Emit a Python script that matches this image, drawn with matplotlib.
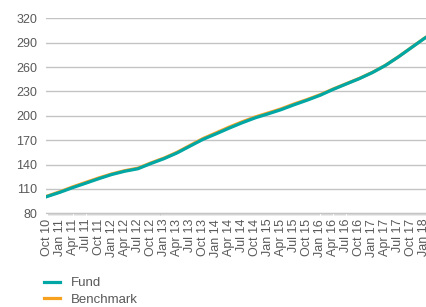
import matplotlib
matplotlib.use("Agg")
import matplotlib.pyplot as plt
import matplotlib.dates as mdates
import pandas as pd

# quarterly readings (index = 100 at launch)
dates = pd.to_datetime([
    "2010-10-01", "2011-01-01", "2011-04-01", "2011-07-01", "2011-10-01",
    "2012-01-01", "2012-04-01", "2012-07-01", "2012-10-01", "2013-01-01",
    "2013-04-01", "2013-07-01", "2013-10-01", "2014-01-01", "2014-04-01",
    "2014-07-01", "2014-10-01", "2015-01-01", "2015-04-01", "2015-07-01",
    "2015-10-01", "2016-01-01", "2016-04-01", "2016-07-01", "2016-10-01",
    "2017-01-01", "2017-04-01", "2017-07-01", "2017-10-01", "2018-01-01",
    "2018-01-25",
])
benchmark = [101, 106.5, 112.5, 118, 123.5, 128.5, 132.5, 135.5, 142, 148,
             155, 163.5, 172, 179, 186, 192.5, 198.5, 203.5, 208.5, 214.5,
             220, 226, 233, 239.5, 246, 253.5, 262, 272.5, 284, 295.5, 298]
fund = [100.5, 105.8, 111.6, 117, 122.6, 127.8, 131.8, 134.8, 141.3, 147.3,
        154.2, 162.6, 171, 177.8, 184.7, 191.3, 197.4, 202.4, 207.5, 213.5,
        219.2, 225.3, 232.5, 239.1, 245.7, 253.2, 261.8, 272.3, 283.8, 295.3, 298]

yticks = [80, 110, 140, 170, 200, 230, 260, 290, 320]

teal = "#00a7a4"
orange = "#f6a11f"
grey_txt = "#595959"

plt.rcParams["font.family"] = ["Liberation Sans", "DejaVu Sans"]

fig = plt.figure(figsize=(4.26, 3.07), dpi=100)
ax = fig.add_axes([46 / 426, 1 - 213.3 / 307, 1 - 46 / 426, 195 / 307])

ax.plot(dates, benchmark, color=orange, lw=2.3, label="Benchmark")
ax.plot(dates, fund, color=teal, lw=2.3, label="Fund")

ax.set_ylim(80, 320)
ax.set_yticks(yticks)
ax.set_xlim(pd.Timestamp("2010-09-26"), pd.Timestamp("2018-01-12"))
ax.grid(axis="y", color="#c4c4c4", lw=1)
ax.set_axisbelow(True)

ax.xaxis.set_major_locator(mdates.MonthLocator(bymonth=[1, 4, 7, 10]))
ax.xaxis.set_major_formatter(mdates.DateFormatter("%b %y"))
ax.xaxis.set_minor_locator(mdates.WeekdayLocator(byweekday=mdates.FR))

for s in ["top", "right", "left"]:
    ax.spines[s].set_visible(False)
ax.spines["bottom"].set_color("#c4c4c4")

ax.tick_params(axis="y", length=0, pad=6.5, labelsize=9, labelcolor=grey_txt)
ax.tick_params(axis="x", which="major", length=0, pad=4, labelsize=9,
               labelcolor=grey_txt, labelrotation=90)
ax.tick_params(axis="x", which="minor", length=1.5, width=0.4, color="#b8b8b8")

handles, labels = ax.get_legend_handles_labels()
fig.legend(handles[::-1], labels[::-1], loc="upper left",
           bbox_to_anchor=(44 / 426, 1 - 277 / 307), frameon=False,
           fontsize=9.5, labelcolor=grey_txt, handlelength=1.2,
           handletextpad=0.8, labelspacing=0.35, borderpad=0,
           borderaxespad=0)

fig.savefig("out.png", dpi=100)
